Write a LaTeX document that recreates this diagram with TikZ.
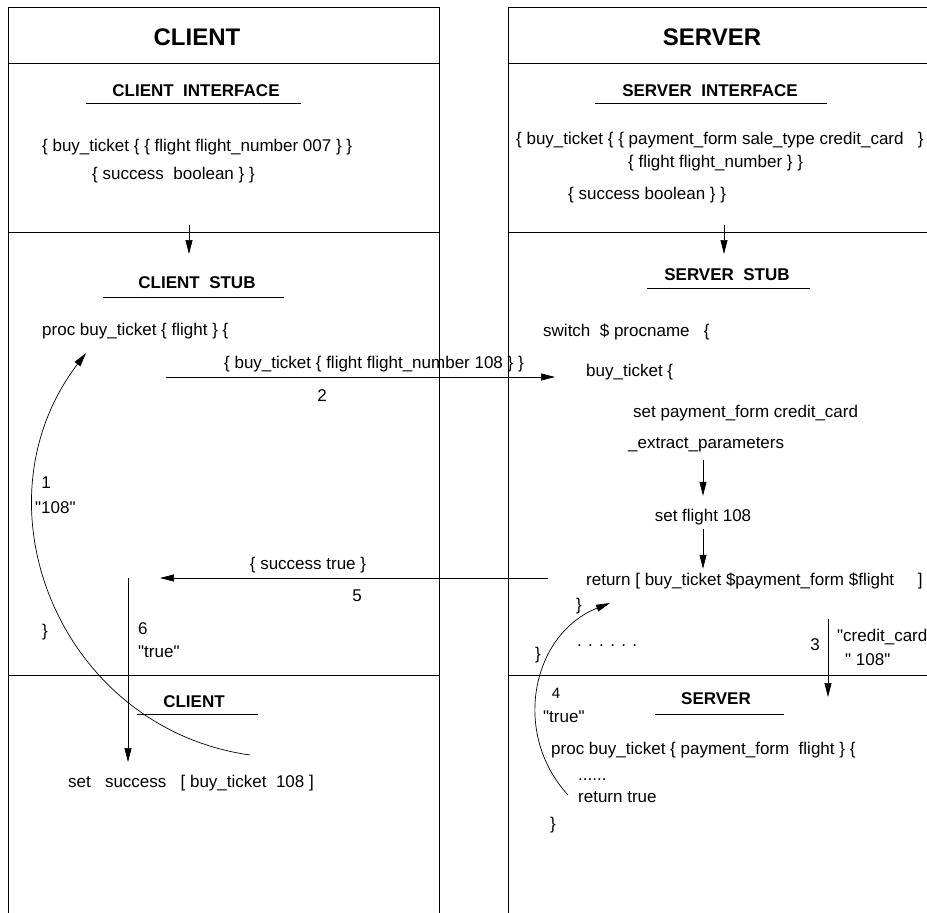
\documentclass[tikz,border=0pt]{standalone}
\usepackage{fontspec}
\setmainfont{Liberation Sans}
\newfontfamily\plainqfont{Liberation Sans}
\usetikzlibrary{arrows.meta}
\newcommand{\straightq}{{\plainqfont\char34}}

\begin{document}
\begin{tikzpicture}[x=1pt,y=-1pt]
  \tikzstyle{frame}=[line width=0.9pt]
  \tikzstyle{rule}=[line width=0.7pt]
  \tikzstyle{code}=[anchor=west,inner sep=0pt,text height=12.4pt,text depth=3.6pt,font=\fontsize{17}{20}\selectfont]
  \tikzstyle{num}=[inner sep=0pt,text height=12.4pt,text depth=3.6pt,font=\fontsize{17}{20}\selectfont]
  \tikzstyle{head}=[inner sep=0pt,font=\fontsize{17}{20}\selectfont\bfseries]
  \tikzstyle{bigtitle}=[inner sep=0pt,font=\fontsize{24}{28}\selectfont\bfseries]
  \tikzstyle{call}=[line width=0.7pt,-{Triangle[length=14pt,width=7pt]}]
  \useasboundingbox (0,0) rectangle (927,913);

  % frames
  \draw [frame] (8,913) -- (8,7) -- (439,7) -- (439,913);
  \draw [frame] (508,913) -- (508,7) -- (927,7);
  \foreach \y in {63,232,675} {
    \draw [frame] (8,\y) -- (439,\y);
    \draw [frame] (508,\y) -- (927,\y);
  }

  % client side
  \node (ctitle) at (197,37) [bigtitle] {CLIENT};
  \node (cif) at (196,91) [head] {CLIENT\ \ INTERFACE};
  \draw [rule] (86,103) -- (301,103);
  \node (cif1) at (42,147) [code] {\{ buy\_ticket \{ \{ flight flight\_number 007 \} \}};
  \node (cif2) at (92,175) [code] {\{ success\ \ boolean \} \}};
  \node (cstub) at (197,283) [head] {CLIENT\ \ STUB};
  \draw [rule] (103,297) -- (284,297);
  \node (cproc) at (42,331) [code] {proc buy\_ticket \{ flight \} \{};
  \node (m2text) at (224,364) [code] {\{ buy\_ticket \{ flight flight\_number 108 \} \}};
  \node (m2num) at (322,397) [num] {2};
  \node (one) at (46,484) [num] {1};
  \node (oneval) at (35,509) [code] {\straightq108\straightq};
  \node (m5text) at (308,565) [num] {\{ success true \}};
  \node (m5num) at (357,597) [num] {5};
  \node (cclose) at (45,632) [num] {\}};
  \node (six) at (138,630) [code] {6};
  \node (sixval) at (138,653) [code] {\straightq true\straightq};
  \node (cclient) at (194,702) [head] {CLIENT};
  \draw [rule] (137,714) -- (258,714);
  \node (cset) at (68,783) [code] {set\ \ \ success\ \ \ [ buy\_ticket\ \ 108 ]};

  % server side
  \node (stitle) at (712,37) [bigtitle] {SERVER};
  \node (sif) at (710,91) [head] {SERVER\ \ INTERFACE};
  \draw [rule] (595,103) -- (827,103);
  \node (sif1) at (516,140) [code] {\{ buy\_ticket \{ \{ payment\_form sale\_type credit\_card\ \ \ \}};
  \node (sif2) at (628,163) [code] {\{ flight flight\_number \} \}};
  \node (sif3) at (568,195) [code] {\{ success boolean \} \}};
  \node (sstub) at (727,275) [head] {SERVER\ \ STUB};
  \draw [rule] (647,288) -- (810,288);
  \node (sswitch) at (543,332) [code] {switch\ \ \$ procname\ \ \ \{};
  \node (sbt) at (586,372) [code] {buy\_ticket \{};
  \node (spay) at (633,413) [code] {set payment\_form credit\_card};
  \node (sext) at (628,444) [code] {\_extract\_parameters};
  \node (sflight) at (703,517) [num] {set flight 108};
  \node (sret) at (586,581) [code] {return [ buy\_ticket \$payment\_form \$flight\ \ \ \ \ ]};
  \node (sclose1) at (579,606) [num] {\}};
  \node (sdots) at (577,642) [code] {. . . . . .};
  \node (sclose2) at (538,655) [num] {\}};
  \node (three) at (815,646) [num] {3};
  \node (threeval1) at (837,637) [code] {\straightq credit\_card};
  \node (threeval2) at (845,661) [code] {\straightq\ 108\straightq};
  \node (four) at (556,694) [num,font=\fontsize{15}{18}\selectfont] {4};
  \node (sserver) at (716,699) [head] {SERVER};
  \draw [rule] (655,714) -- (784,714);
  \node (strue) at (543,718) [code] {\straightq true\straightq};
  \node (sproc) at (551,750) [code] {proc buy\_ticket \{ payment\_form\ \ flight \} \{};
  \node (sdots2) at (578,776) [code] {......};
  \node (sretT) at (578,798) [code] {return true};
  \node (sclose3) at (553,825) [num] {\}};

  % connector ends
  \coordinate (cdown0) at (189,225);
  \coordinate (cdown1) at (189,254);
  \coordinate (sdown0) at (724,225);
  \coordinate (sdown1) at (724,254);
  \coordinate (m2from) at (166,377);
  \coordinate (m2to) at (555,377);
  \coordinate (m5from) at (548,578);
  \coordinate (m5to) at (160,578);
  \coordinate (m6from) at (128,578);
  \coordinate (m6to) at (128,762);
  \coordinate (m3from) at (828,619);
  \coordinate (m3to) at (828,697);
  \coordinate (m1from) at (250,755);
  \coordinate (m1to) at (86,353);
  \coordinate (m4from) at (568,795);
  \coordinate (m4to) at (610,603);

  % connectors
  \draw [call] (cdown0) -- (cdown1);
  \draw [call] (sdown0) -- (sdown1);
  \draw [call] (m2from) -- (m2to);
  \draw [call] (m5from) -- (m5to);
  \draw [call] (m6from) -- (m6to);
  \draw [call] (m3from) -- (m3to);
  \draw [call,shorten <=8pt,shorten >=13pt] (sext.south -| sflight) -- (sflight);
  \draw [call,shorten <=4pt,shorten >=4pt] (sflight.south) -- (sflight.south |- sret.north);
  \draw [call] (m1from) .. controls (60,728) and (-30,505) .. (m1to);
  \draw [call] (m4from) .. controls (511,733) and (532,634) .. (m4to);
\end{tikzpicture}
\end{document}
